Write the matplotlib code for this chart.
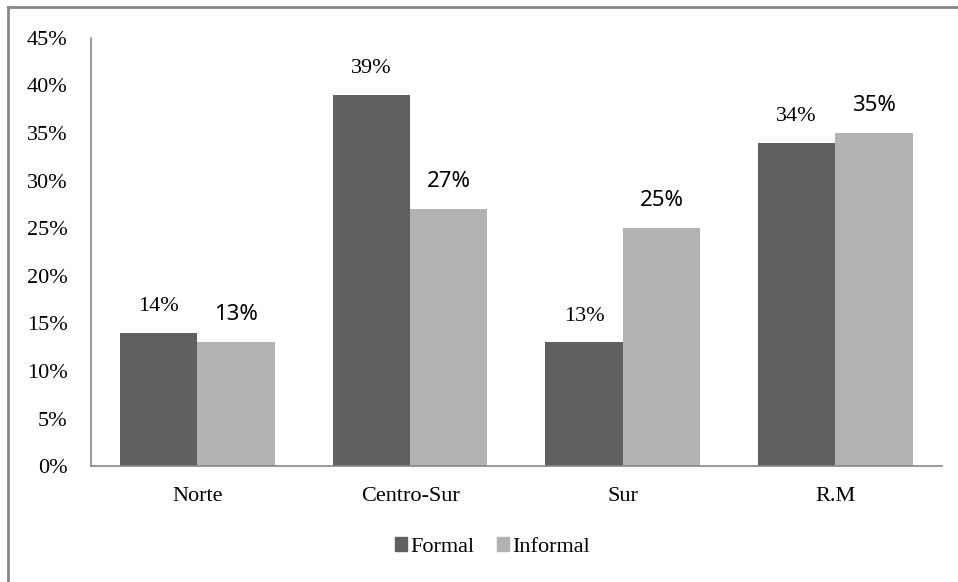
import matplotlib.pyplot as plt
import numpy as np
from matplotlib.lines import Line2D
from matplotlib.patches import Patch

# porcentaje de empleo por zona
zonas = ["Norte", "Centro-Sur", "Sur", "R.M"]
formal = [14, 39, 13, 34]
informal = [13, 27, 25, 35]
yticks = [0, 5, 10, 15, 20, 25, 30, 35, 40, 45]

c_formal = "#606060"
c_informal = "#b2b2b2"
serif = "Liberation Serif"
sans = "Noto Sans"
fs = 16

fig = plt.figure(figsize=(9.58, 5.82), dpi=100)
ax = fig.add_axes([0.095, 0.199, 0.888, 0.736])

x = np.arange(len(zonas))
w = 0.364
b1 = ax.bar(x - w / 2, formal, w, color=c_formal, label="Formal")
b2 = ax.bar(x + w / 2, informal, w, color=c_informal, label="Informal")

for rect, v in zip(b1, formal):
    ax.annotate(f"{v}%", (rect.get_x() + rect.get_width() / 2, v),
                xytext=(0, 19), textcoords="offset points", ha="center", va="center",
                fontfamily=serif, fontsize=fs)
for rect, v in zip(b2, informal):
    ax.annotate(f"{v}%", (rect.get_x() + rect.get_width() / 2, v),
                xytext=(0, 20), textcoords="offset points", ha="center", va="center",
                fontfamily=sans, fontsize=16)

ax.set_xlim(-0.5, len(zonas) - 0.5)
ax.set_ylim(0, 45)
ax.set_yticks(yticks)
ax.set_yticklabels([f"{t}%" for t in yticks], fontfamily=serif, fontsize=fs)
ax.set_xticks(x)
ax.set_xticklabels(zonas, fontfamily=serif, fontsize=fs)
ax.tick_params(axis="both", length=0)
ax.tick_params(axis="x", pad=15)
ax.tick_params(axis="y", pad=17)
for s in ["top", "right"]:
    ax.spines[s].set_visible(False)
for s in ["left", "bottom"]:
    ax.spines[s].set_color("#868686")
    ax.spines[s].set_linewidth(1.2)

handles = [Patch(color=c_formal), Patch(color=c_informal)]
fig.legend(handles, ["Formal", "Informal"], loc="center", bbox_to_anchor=(0.514, 0.06),
           ncol=2, frameon=False, handlelength=0.55, handleheight=0.55,
           handletextpad=0.15, columnspacing=1.0,
           prop={"family": serif, "size": fs})

# marco exterior
fig.add_artist(Line2D([8 / 958, 8 / 958], [0, 1 - 7 / 582], transform=fig.transFigure,
                      color="#868686", lw=2))
fig.add_artist(Line2D([8 / 958, 1], [1 - 7 / 582, 1 - 7 / 582], transform=fig.transFigure,
                      color="#868686", lw=2))

fig.savefig("out.png", dpi=100)
